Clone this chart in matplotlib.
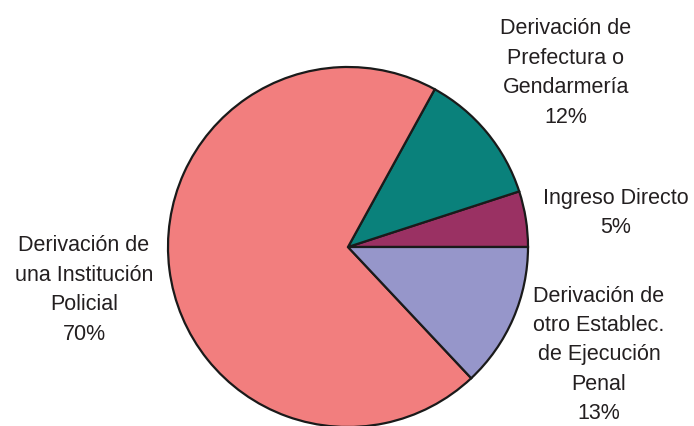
import matplotlib.pyplot as plt

# slices counterclockwise from 3 o'clock
labels = ['Ingreso Directo', 'Derivación de\nPrefectura o\nGendarmería',
          'Derivación de\nuna Institución\nPolicial',
          'Derivación de\notro Establec.\nde Ejecución\nPenal']
values = [5, 12, 70, 13]
colors = ['#9A3163', '#0A817B', '#F27E7E', '#9696CA']

# label anchors in pixel coords (x, y from top)
label_pos = [(616, 213), (566, 73), (84, 290), (599, 355)]

W, H = 694, 427
fig = plt.figure(figsize=(W / 100, H / 100), dpi=100)
ax = fig.add_axes([0, 0, 1, 1])

ax.pie(values, colors=colors, startangle=0, counterclock=True,
       center=(348, H - 248), radius=180,
       wedgeprops=dict(edgecolor='#1a1a1a', linewidth=1.6))
ax.set_xlim(0, W)
ax.set_ylim(0, H)
ax.set_aspect('equal')
ax.axis('off')

for lab, v, (x, y) in zip(labels, values, label_pos):
    ax.text(x, H - y, f'{lab}\n{v}%', ha='center', va='center',
            fontsize=15.5, linespacing=1.53, color='#231f20',
            family=['Liberation Sans', 'DejaVu Sans'])

plt.savefig('out.png', dpi=100)
